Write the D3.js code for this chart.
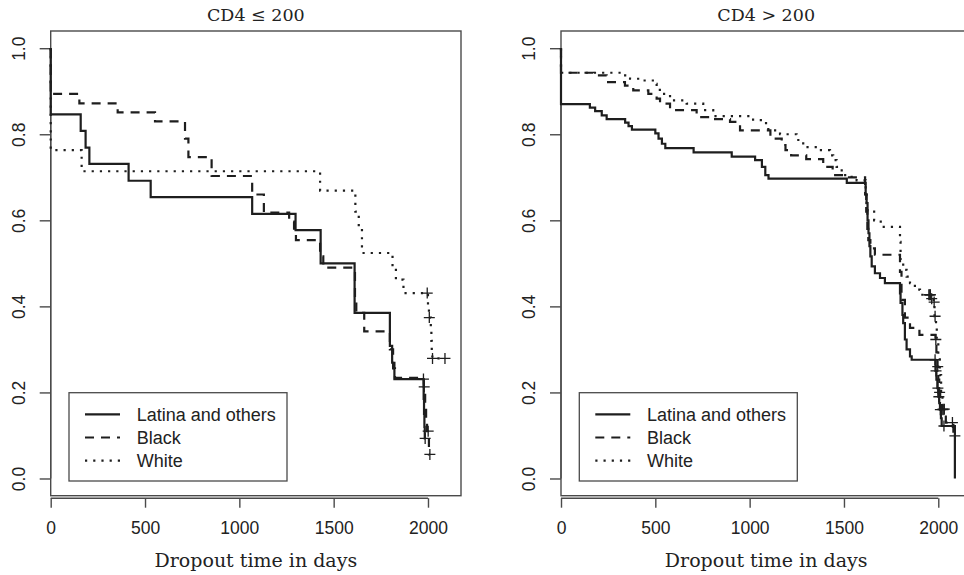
<!DOCTYPE html>
<html>
<head>
<meta charset="utf-8">
<script src="https://cdn.jsdelivr.net/npm/d3@7"></script>
<style>
  html, body { margin: 0; padding: 0; background: #fff; }
  svg { display: block; }
</style>
</head>
<body>
<svg id="chart" width="964" height="575"></svg>
<script>
// ---------------- DATA ----------------
const panelTitles = ["CD4 \u2264 200", "CD4 > 200"];
const groupNames = ["Latina and others", "Black", "White"];
const xTicks = [0, 500, 1000, 1500, 2000];
const yTicks = [0.0, 0.2, 0.4, 0.6, 0.8, 1.0];
const xLabel = "Dropout time in days";

// Panel 1: CD4 <= 200
const lowLatinaTime = [0,159,185,205,413,530,1068,1298,1431,1611,1798,1810,1822,1977,1979,1981,1983];
const lowLatinaSurv = [0.846,0.808,0.769,0.731,0.692,0.654,0.615,0.577,0.500,0.385,0.308,0.269,0.231,0.185,0.150,0.120,0.093];
const lowLatinaCens = [1976,1985];

const lowBlackTime = [0,152,355,553,712,730,853,1068,1130,1264,1290,1300,1428,1445,1613,1620,1662,1798,1815,1825,1978,1985,1990,1995,2005];
const lowBlackSurv = [0.894,0.872,0.851,0.830,0.790,0.747,0.703,0.660,0.618,0.597,0.576,0.554,0.516,0.490,0.410,0.385,0.342,0.300,0.256,0.234,0.213,0.170,0.140,0.110,0.056];
const lowBlackCens = [1980,2001,2010];

const lowWhiteTime = [0,164,1428,1615,1633,1650,1812,1830,1870,2000,2005,2015,2018,2020,2023];
const lowWhiteSurv = [0.763,0.714,0.669,0.620,0.585,0.524,0.489,0.462,0.431,0.400,0.374,0.342,0.320,0.296,0.279];
const lowWhiteCens = [1996,2007,2024,2090];

// Panel 2: CD4 > 200
const highLatinaTime = [0,153,181,216,242,340,358,376,500,517,535,553,703,905,1029,1065,1083,1100,1515,1615,1620,1625,1630,1635,1640,1647,1664,1691,1717,1797,1800,1810,1814,1823,1832,1850,1859,1985,1990,1995,2000,2005,2009,2014,2018,2088];
const highLatinaSurv = [0.870,0.862,0.854,0.844,0.835,0.827,0.819,0.811,0.802,0.790,0.778,0.768,0.758,0.748,0.740,0.724,0.705,0.697,0.687,0.660,0.640,0.600,0.570,0.540,0.516,0.493,0.477,0.466,0.454,0.430,0.408,0.380,0.361,0.323,0.300,0.284,0.276,0.250,0.230,0.210,0.190,0.175,0.160,0.140,0.122,0.000];
const highLatinaCens = [1983,1988,1998,2003,2011,2030];

const highBlackTime = [0,171,242,339,383,463,507,525,578,719,807,896,949,1110,1170,1190,1220,1300,1390,1440,1500,1612,1618,1624,1629,1640,1664,1797,1805,1823,1850,1900,1985,1990,1995,2000,2005,2010,2015,2020,2040,2080];
const highBlackSurv = [0.943,0.937,0.921,0.913,0.902,0.894,0.883,0.871,0.856,0.840,0.835,0.829,0.809,0.790,0.775,0.763,0.751,0.742,0.724,0.705,0.700,0.660,0.620,0.580,0.554,0.535,0.520,0.480,0.415,0.374,0.350,0.334,0.323,0.293,0.260,0.230,0.200,0.180,0.170,0.161,0.130,0.099];
const highBlackCens = [1987,1997,2007,2025,2032,2075,2088];

const highWhiteTime = [0,340,366,419,498,507,524,578,666,754,807,993,1037,1072,1099,1161,1249,1258,1284,1364,1426,1443,1461,1488,1532,1567,1615,1620,1625,1660,1695,1797,1800,1814,1832,1850,1876,1903,1960,1975,1980,1988,1992,2000,2008,2015,2022];
const highWhiteSurv = [0.943,0.937,0.929,0.925,0.917,0.910,0.894,0.879,0.871,0.856,0.842,0.834,0.833,0.826,0.809,0.800,0.795,0.782,0.770,0.763,0.751,0.740,0.724,0.705,0.701,0.693,0.660,0.630,0.620,0.600,0.585,0.550,0.508,0.485,0.469,0.454,0.439,0.427,0.418,0.410,0.377,0.350,0.323,0.280,0.240,0.200,0.160];
const highWhiteCens = [1950,1955,1958,1965,1978,1983,2025];

// ---------------- LAYOUT / STYLE ----------------
const panels = [
  { title: panelTitles[0], left: 50.7, curves: [
      { t: lowLatinaTime, s: lowLatinaSurv, c: lowLatinaCens },
      { t: lowBlackTime, s: lowBlackSurv, c: lowBlackCens },
      { t: lowWhiteTime, s: lowWhiteSurv, c: lowWhiteCens } ] },
  { title: panelTitles[1], left: 561, curves: [
      { t: highLatinaTime, s: highLatinaSurv, c: highLatinaCens },
      { t: highBlackTime, s: highBlackSurv, c: highBlackCens },
      { t: highWhiteTime, s: highWhiteSurv, c: highWhiteCens } ] }
];
const boxW = 410.3, boxTop = 31, boxBottom = 495.7;
const dashes = [null, "9,7", "2.2,6"];
const lineColor = "#1e1e1e";
const axisColor = "#4a4a4a";
const sansFont = "'Liberation Sans', Arial, sans-serif";
const serifFont = "'DejaVu Serif', serif";

const svg = d3.select("#chart");

const y = d3.scaleLinear().domain([-0.04, 1.04]).range([boxBottom, boxTop]);

panels.forEach(p => {
  const x = d3.scaleLinear().domain([0, 2175]).range([p.left, p.left + boxW]);
  const g = svg.append("g");

  // box
  g.append("rect")
    .attr("x", p.left).attr("y", boxTop)
    .attr("width", boxW).attr("height", boxBottom - boxTop)
    .attr("fill", "none").attr("stroke", axisColor).attr("stroke-width", 1.4);

  // x axis
  const xa = g.append("g").attr("transform", `translate(0,${boxBottom + 2.5})`)
    .call(d3.axisBottom(x).tickValues(xTicks).tickSize(9.5).tickPadding(0).tickFormat(d3.format("d")));
  xa.select(".domain").attr("stroke", axisColor).attr("stroke-width", 1.4)
    .attr("d", `M${x(xTicks[0])},0H${x(xTicks[xTicks.length-1])}`);
  xa.selectAll(".tick line").attr("stroke", axisColor).attr("stroke-width", 1.4);
  xa.selectAll(".tick text").attr("font-family", sansFont).attr("font-size", 17.5)
    .attr("fill", "#222").attr("y", 0).attr("dy", null)
    .attr("transform", "translate(0,36)");

  // y axis
  const ya = g.append("g").attr("transform", `translate(${p.left},0)`)
    .call(d3.axisLeft(y).tickValues(yTicks).tickSize(11).tickFormat(d3.format(".1f")));
  ya.select(".domain").attr("stroke", axisColor).attr("stroke-width", 1.4)
    .attr("d", `M0,${y(0)}V${y(1)}`);
  ya.selectAll(".tick line").attr("stroke", axisColor).attr("stroke-width", 1.4);
  ya.selectAll(".tick text").attr("font-family", sansFont).attr("font-size", 17.5)
    .attr("fill", "#222").attr("x", null).attr("dy", null)
    .attr("text-anchor", "middle")
    .attr("transform", "translate(-25.7,0) rotate(-90)");

  // titles
  g.append("text").attr("x", p.left + boxW / 2).attr("y", 20.5)
    .attr("text-anchor", "middle").attr("font-family", serifFont).attr("font-size", 17.5)
    .attr("fill", "#222").text(p.title);
  g.append("text").attr("x", p.left + boxW / 2).attr("y", 566.5)
    .attr("text-anchor", "middle").attr("font-family", serifFont).attr("font-size", 19)
    .attr("fill", "#222").text(xLabel);

  // curves
  const line = d3.line().x(d => x(d[0])).y(d => y(d[1])).curve(d3.curveStepAfter);
  p.curves.forEach((cv, i) => {
    const pts = [[0, 1]].concat(cv.t.map((t, k) => [t, cv.s[k]]));
    const end = Math.max(cv.t[cv.t.length - 1], d3.max(cv.c));
    pts.push([end, cv.s[cv.s.length - 1]]);
    g.append("path").attr("d", line(pts)).attr("fill", "none")
      .attr("stroke", lineColor).attr("stroke-width", 2.2)
      .attr("stroke-dasharray", dashes[i]);
    const survAt = tt => { let v = 1; cv.t.forEach((t, k) => { if (t <= tt) v = cv.s[k]; }); return v; };
    g.selectAll(null).data(cv.c).enter().append("path")
      .attr("transform", d => `translate(${x(d)},${y(survAt(d))})`)
      .attr("d", "M-5.5,0H5.5M0,-5.5V5.5")
      .attr("stroke", lineColor).attr("stroke-width", 1.3).attr("fill", "none");
  });

  // legend
  const lx = p.left + 18.3, ly = 392.7;
  const lg = g.append("g");
  lg.append("rect").attr("x", lx).attr("y", ly).attr("width", 218).attr("height", 88.3)
    .attr("fill", "#fff").attr("stroke", axisColor).attr("stroke-width", 1.3);
  groupNames.forEach((name, i) => {
    const yy = ly + 21.6 + i * 23.2;
    lg.append("line").attr("x1", lx + 16).attr("x2", lx + 51).attr("y1", yy).attr("y2", yy)
      .attr("stroke", lineColor).attr("stroke-width", 2.2).attr("stroke-dasharray", dashes[i]);
    lg.append("text").attr("x", lx + 67.7).attr("y", yy + 6.5)
      .attr("font-family", sansFont).attr("font-size", 18).attr("fill", "#222").text(name);
  });
});
</script>
</body>
</html>
